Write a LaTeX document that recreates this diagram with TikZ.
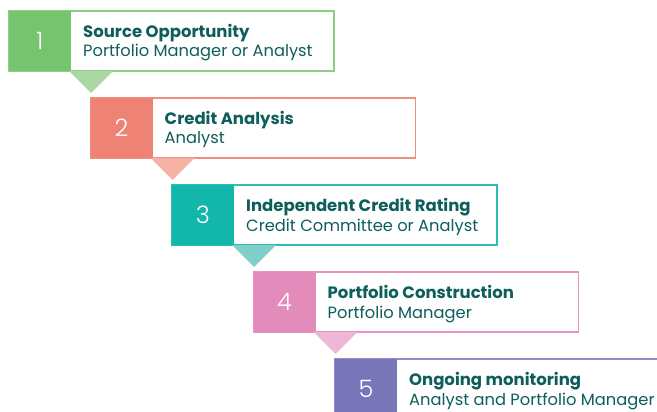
\documentclass[tikz,border=0pt]{standalone}
\usepackage{fontspec}
\setmainfont{Poppins}
\newfontfamily\numfont{Poppins}[UprightFont=* Light]
\definecolor{txt}{HTML}{0E5E5B}
\definecolor{c1}{HTML}{77C46E}\definecolor{t1}{HTML}{A9D9A0}\definecolor{b1}{HTML}{8CCF82}
\definecolor{c2}{HTML}{EE8375}\definecolor{t2}{HTML}{F4B3A3}\definecolor{b2}{HTML}{EE8E80}
\definecolor{c3}{HTML}{13B6AA}\definecolor{t3}{HTML}{80CFC8}\definecolor{b3}{HTML}{2EBDB3}
\definecolor{c4}{HTML}{E38CBB}\definecolor{t4}{HTML}{EDB7D5}\definecolor{b4}{HTML}{E993C2}
\definecolor{c5}{HTML}{7876B9}\definecolor{t5}{HTML}{FFFFFF}\definecolor{b5}{HTML}{8F8DC7}
\begin{document}
\begin{tikzpicture}[x=1pt,y=-1pt,
  panel/.style={draw=#1, line width=1.3pt, fill=white, minimum width=325pt, minimum height=60pt, anchor=north west, inner sep=0pt, outer sep=0pt},
  numsq/.style={fill=#1, minimum width=62pt, minimum height=60pt, anchor=north west, inner sep=0pt, outer sep=0pt, text=white, font=\numfont\fontsize{24}{24}\selectfont},
  ttl/.style={anchor=base west, inner sep=0pt, text=txt, font=\bfseries\fontsize{16.5}{16.5}\selectfont},
  sub/.style={anchor=base west, inner sep=0pt, text=txt, font=\fontsize{16.3}{16.3}\selectfont},
  tri/.style={fill=#1, draw=none}]
\useasboundingbox (0,0) rectangle (657,412);
\clip (0,0) rectangle (657,412);
\foreach \i/\t/\s in {1/Source Opportunity/Portfolio Manager or Analyst,
                      2/Credit Analysis/Analyst,
                      3/Independent Credit Rating/Credit Committee or Analyst,
                      4/Portfolio Construction/Portfolio Manager,
                      5/Ongoing monitoring/Analyst and Portfolio Manager}{
  \pgfmathsetmacro{\xo}{9+81.5*(\i-1)}
  \pgfmathsetmacro{\yo}{11+87*(\i-1)}
  \node[panel=b\i] (box\i) at (\xo,\yo) {};
  \node[numsq=c\i] (sq\i) at (\xo,\yo) {\i};
  \node[ttl] (title\i) at (\xo+74,\yo+26.5) {\t};
  \node[sub] (role\i) at (\xo+74,\yo+46) {\s};
}
\foreach \i in {1,2,3,4}{
  \fill[tri=t\i] (sq\i.south east) ++(-2,0) -- ++(44,0) -- ++(-22,22) -- cycle;
}
\end{tikzpicture}
\end{document}
